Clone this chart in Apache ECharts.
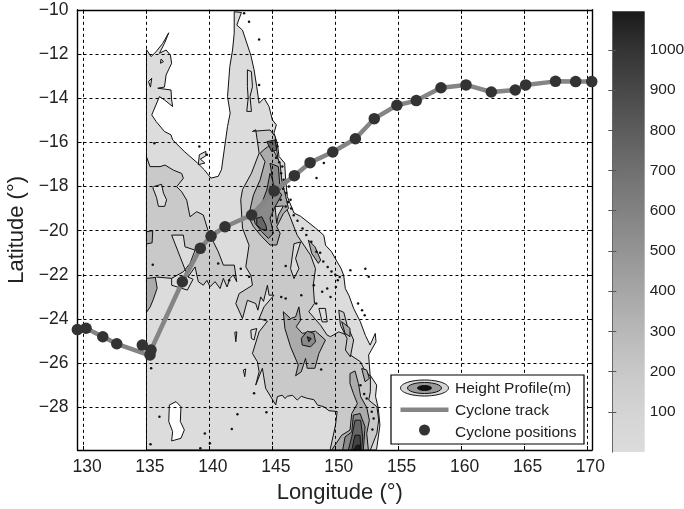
<!DOCTYPE html>
<html><head><meta charset="utf-8">
<style>html,body{margin:0;padding:0;background:#fff}#c{width:684px;height:509px}</style>
<script src="https://cdn.jsdelivr.net/npm/echarts@6/dist/echarts.min.js"></script>
</head><body><div id="c"></div>
<script>
// ---- data ----
const xTicks=[130,135,140,145,150,155,160,165,170];
const yTicks=[-28,-26,-24,-22,-20,-18,-16,-14,-12,-10];
const cbTicks=[100,200,300,400,500,600,700,800,900,1000];
const trackPoints=[[129.51,-24.48],[130.2,-24.42],[131.53,-24.8],[132.64,-25.12],[135.2,-25.63],[135.36,-25.4],[137.85,-22.31],[139.28,-20.8],[140.13,-20.25],[141.24,-19.82],[143.36,-19.29],[145.14,-18.2],[146.75,-17.51],[148.0,-16.92],[149.8,-16.44],[151.6,-15.84],[153.1,-14.93],[154.9,-14.32],[156.44,-14.11],[158.4,-13.53],[160.39,-13.4],[162.4,-13.72],[164.3,-13.63],[165.13,-13.4],[167.5,-13.24],[169.1,-13.25],[170.38,-13.25]];
const cyclonePositions=[[129.51,-24.48],[130.2,-24.42],[131.53,-24.8],[132.64,-25.12],[134.67,-25.18],[135.28,-25.63],[135.36,-25.4],[137.85,-22.31],[139.28,-20.8],[140.13,-20.25],[141.24,-19.82],[143.36,-19.29],[145.14,-18.2],[146.75,-17.51],[148.0,-16.92],[149.8,-16.44],[151.6,-15.84],[153.1,-14.93],[154.9,-14.32],[156.44,-14.11],[158.4,-13.53],[160.39,-13.4],[162.4,-13.72],[164.3,-13.63],[165.13,-13.4],[167.5,-13.24],[169.1,-13.25],[170.38,-13.25]];
const land=[[135,-11.8],[135.37,-12.12],[135.77,-11.89],[136.29,-11.52],[136.77,-11.04],[136.43,-11.52],[136.03,-11.97],[136.56,-11.82],[136.9,-12.05],[137,-12.42],[136.56,-12.95],[136.43,-13.5],[135.9,-13.55],[136.95,-13.63],[137,-14.08],[137.08,-14.38],[136.43,-14.08],[136.03,-13.93],[135.42,-14.76],[135.77,-15.06],[136.43,-15.51],[136.95,-15.66],[137.08,-15.89],[138,-16.41],[139.06,-16.94],[139.59,-17.24],[140.12,-17.62],[140.7,-17.54],[140.96,-17.24],[141.18,-16.34],[141.44,-15.28],[141.65,-14.68],[141.44,-13.93],[141.62,-12.57],[141.84,-11.82],[141.97,-11.07],[141.97,-10.09],[142.55,-10.12],[142.18,-10.69],[142.63,-10.92],[142.89,-11.37],[143.29,-12.05],[143.55,-12.72],[143.76,-13.48],[143.95,-14.23],[144.34,-14],[144.74,-14.38],[145,-14.98],[145.32,-15.21],[145.13,-15.58],[145.4,-16.04],[145.53,-16.64],[145.98,-16.94],[146.06,-17.69],[146.19,-18.45],[146.72,-19.2],[147.25,-19.35],[148.43,-19.88],[149.09,-20.21],[149.23,-20.66],[149.7,-20.95],[150.15,-21.41],[150.45,-21.7],[150.67,-22.02],[150.8,-22.62],[151.1,-22.95],[151.46,-23.52],[151.99,-24.12],[152.4,-24.75],[152.77,-25.18],[153.18,-24.65],[153.24,-25.03],[152.65,-25.63],[152.77,-26.54],[153.29,-26.99],[153.2,-27.5],[153.42,-28.04],[153.55,-28.8],[153.29,-29.88],[153.25,-29.93],[135,-29.93]];
const westHighland=[[135,-16.65],[135.28,-17.1],[136.08,-17.1],[136.48,-17.03],[137.14,-17.26],[137.8,-17.41],[137.93,-17.63],[137.4,-18.01],[137.8,-18.24],[138.2,-18.62],[138.46,-19.37],[138.99,-19.14],[139.52,-19.29],[139.92,-20.05],[140.71,-20.96],[141.11,-21.56],[141.98,-21.56],[142.17,-22.31],[141.9,-22.0],[141.64,-22.16],[141.4,-22.55],[141.11,-22.16],[140.85,-22.62],[140.45,-22.31],[140.05,-22.54],[139.8,-22.25],[139.52,-22.47],[139.12,-22.31],[138.86,-21.64],[138.3,-22.1],[137,-22.16],[135.8,-22.1],[135,-22.4]];
const eastHighland=[[143.42,-15.51],[143.68,-15.43],[143.95,-16.49],[143.34,-17.4],[142.63,-18.14],[142.49,-18.6],[142.63,-19.88],[143.15,-20.66],[142.89,-21.64],[143.29,-22.02],[143.42,-22.47],[142.36,-22.85],[142.1,-23.3],[142.63,-23.98],[143.02,-23.15],[143.68,-23.3],[143.85,-23.6],[144.08,-23],[144.3,-23.2],[144.61,-22.47],[144.74,-22.92],[145.13,-22.92],[144.34,-23.45],[143.95,-23.98],[144.61,-24.1],[143.95,-24.58],[143.42,-25.56],[143.81,-25.93],[143.95,-26.39],[143.68,-26.99],[144.21,-26.23],[144.47,-27.14],[145.27,-27.89],[145.4,-27.51],[145.8,-27.45],[146,-27.6],[146.19,-27.5],[146.6,-27.45],[146.98,-27.67],[147.3,-27.5],[147.77,-27.59],[148.3,-27.65],[148.6,-27.9],[149.09,-27.97],[149.5,-28.15],[150.15,-28.19],[150.02,-28.8],[149.62,-29.85],[149.6,-29.93],[152.79,-29.93],[153.31,-29.17],[153.45,-28.57],[153.31,-27.97],[152.66,-27.67],[152.79,-27.29],[152.79,-26.61],[152.26,-26.23],[151.99,-25.93],[151.2,-25.63],[150.94,-24.73],[150.28,-24.58],[149.62,-24.8],[149.36,-24.73],[148.83,-24.28],[147.9,-23.67],[148.35,-23.3],[148.25,-22.47],[148.43,-21.72],[148.04,-21.11],[146.98,-20.21],[146.41,-19.37],[146.01,-18.84],[145.35,-16.35],[145.22,-15.74],[144.82,-15.44],[143.5,-15.5]];
const westLakes=[[[135.6,-18.0],[136.2,-17.9],[136.35,-18.3],[136.6,-18.6],[136.45,-18.9],[135.95,-18.9],[135.8,-18.5],[135.5,-18.05]],[[137,-20.2],[137.93,-20.2],[138.06,-20.73],[138.86,-20.88],[138.46,-21.48],[137.93,-21.86],[137,-22.16],[137,-22.47],[138.25,-22.69],[138.7,-22.2],[138.3,-22.1]]];
const ridgeNorth=[[144.03,-16.5],[144.42,-16.87],[144.03,-17.7],[143.5,-18.38],[143.1,-19.37],[143.5,-19.82],[144.16,-20.27],[144.82,-20.65],[145.35,-20.65],[145.62,-20.12],[145.35,-19.82],[145.88,-19.22],[146.28,-18.99],[146.01,-18.31],[145.75,-17.71],[145.62,-16.95],[145.22,-16.5],[144.82,-16.12],[144.29,-16.35]];
const ridgeNorthInner=[[144.82,-17.4],[145.22,-18.01],[145.75,-18.38],[145.22,-18.91],[144.82,-19.44],[145.09,-20.12],[144.69,-20.35],[144.16,-20.05],[143.63,-19.67],[143.5,-19.29],[144.16,-18.76],[144.56,-18.16]];
const ridgeNorthCore=[[143.76,-19.44],[144.16,-19.37],[144.48,-19.74],[144.56,-19.97],[144.16,-19.94],[143.76,-19.74]];
const ridgeNorthTop=[[144.56,-15.97],[145.22,-15.89],[145.35,-16.35],[144.95,-16.42]];
const ridgeNorthSpine=[[144.82,-16.95],[145.48,-17.1],[145.62,-18.16],[145.09,-17.93]];
const townsvilleGap=[[145.22,-18.91],[145.88,-18.88],[145.48,-19.29],[145.35,-19.67]];
const carnarvon=[[145.87,-23.67],[146.45,-23.98],[146.85,-23.9],[147.11,-23.45],[147.25,-24.05],[146.9,-24.35],[147.38,-24.65],[148.43,-24.55],[149.22,-24.95],[148.7,-25.56],[148.38,-26.23],[147.77,-26.23],[147.64,-25.78],[147.3,-26.39],[146.85,-26.57],[147.06,-26.08],[146.45,-25.26],[146,-24.43]];
const carnarvonInner=[[147.3,-24.88],[147.77,-24.55],[148.3,-24.65],[148.43,-25.03],[148.04,-25.26],[147.38,-25.18]];
const carnarvonCore=[[147.77,-24.8],[148.09,-24.88],[147.9,-25.03]];
const southRidge=[[151.17,-26.47],[151.57,-26.35],[151.84,-26.92],[152.02,-27.52],[152.5,-28],[152.71,-28.58],[152.5,-29.18],[152.63,-29.93],[149.72,-29.93],[150.51,-29.26],[151.17,-29.03],[151.31,-28.28],[151.76,-27.83],[151.44,-27.37],[151.17,-26.92]];
const southRidge4=[[151.44,-28.35],[151.97,-28.28],[152.37,-28.88],[152.23,-29.93],[150.59,-29.93],[150.78,-29.34],[151.31,-29.11]];
const southRidge5=[[151.57,-28.58],[152.02,-28.58],[152.18,-29.34],[152.1,-29.93],[151.04,-29.93],[151.31,-29.34]];
const southRidge6=[[151.57,-29.26],[151.97,-29.26],[152.02,-29.93],[151.31,-29.93]];
const southRidge7=[[151.7,-29.71],[151.92,-29.71],[151.92,-29.93],[151.44,-29.93]];
const smallHigh=[[[152.1,-26.24],[152.5,-26.31],[152.71,-26.69],[152.37,-26.84]],[[150.51,-24.12],[151.17,-24.42],[151.17,-24.8],[150.78,-24.65]],[[147.86,-20.42],[148.39,-20.73],[148.84,-21.33],[148.66,-21.48],[148.13,-21.03]],[[135,-20.05],[135.5,-20.0],[135.45,-20.55],[135,-20.6]],[[135,-22.16],[135.7,-22.12],[135.85,-22.6],[135.55,-23.1],[135.3,-23.45],[135,-23.7]]];
const smallPlain=[[[143.02,-12.72],[143.34,-12.8],[143.42,-13.48],[143.23,-13.93],[143.34,-14.6],[142.97,-14.6],[143.08,-14],[143.02,-13.48]],[[136.16,-12.23],[136.35,-12.35],[136.11,-12.42]],[[135.16,-13.25],[135.42,-13.1],[135.32,-13.5]],[[139.2,-16.56],[139.72,-16.41],[139.72,-16.61],[139.28,-16.76],[139.64,-16.94],[139.12,-17.01]],[[143.29,-24.5],[143.76,-24.43],[143.55,-24.95],[143.34,-24.88]],[[142.7,-26.31],[142.89,-26.26],[142.81,-26.61]],[[142.02,-24.6],[142.18,-24.58],[142.1,-25.03]],[[146.72,-20.59],[147.25,-20.51],[146.85,-21.26],[147.11,-21.72],[146.72,-22.17],[146.45,-21.72]],[[148.7,-23.52],[149.22,-23.52],[149.36,-24.13],[148.96,-24.13]]];
const coastalStrip=[[150.28,-23.6],[150.68,-23.7],[150.94,-24.28],[151.46,-24.95],[151.2,-25.71],[150.81,-25.41],[150.94,-24.88],[150.41,-24.28]];
const lakeEyre=[[136.82,-27.89],[137.35,-27.74],[137.74,-27.97],[137.69,-28.64],[138.01,-29.02],[137.74,-29.4],[137,-29.52],[137.08,-29.1],[136.77,-28.64]];
const specks=[[151.2,-21.79],[152.39,-21.72],[152.66,-22.09],[151.81,-23.3],[152.13,-23.6],[152.34,-23.83],[135.37,-26.23],[136.03,-28.42],[142.23,-28.31],[144.53,-28.22],[141.78,-28.98],[139.64,-29.18],[140.04,-29.63],[135.32,-29.67],[139.28,-29.85],[135.5,-21.54],[143.55,-27.36],[148.88,-26.28],[146.06,-23.07],[145.71,-23],[147.3,-22.92],[148.96,-22.77],[140.7,-21.49],[141.57,-22.24],[142.49,-21.72],[143.15,-22.09],[146.06,-21.6],[148.49,-23.3],[149.62,-23],[149.36,-22.62],[148.3,-22.47],[143.95,-11.34],[142.76,-10.16],[143.15,-10.54],[143.95,-13.4],[135.63,-16.04],[139.2,-16.19],[149.09,-16.94],[148.51,-17.62],[139.8,-16.56],[145.79,-17.09],[146.32,-18],[146.45,-18.6],[146.06,-18.9],[145.66,-18.6],[145.4,-16.19],[145.3,-16.7],[145.55,-16.9],[145.7,-17.4],[145.9,-17.7],[145.85,-18.1],[146.1,-18.3],[146.25,-18.7],[146.5,-19.0],[146.7,-19.3],[147,-19.55],[147.4,-19.9],[147.7,-20.2],[148.1,-20.5],[148.5,-20.95],[148.8,-21.0],[149.05,-21.4],[149.4,-21.65],[149.7,-21.85],[150.0,-22.0],[150.2,-22.25],[150.05,-22.55],[150.35,-22.1],[152.0,-27.0],[152.3,-27.4],[152.5,-27.6],[152.9,-28.2],[153.05,-28.5],[152.95,-29.0]];
const cbEdges=[0,100,200,300,400,500,600,700,800,900,1000,1096];
const cbGreys=[220,212,200,184,166,148,130,112,92,72,52,26];
const levelFill=['#dcdcdc','#c9c9c9','#ababab','#8a8a8a','#666666','#444444','#1c1c1c'];

// layers drawn bottom to top: [polygon, level]
const layers=[[land,0],[westHighland,1],[eastHighland,1]]
 .concat(westLakes.map(p=>[p,0]))
 .concat(smallPlain.map(p=>[p,0]))
 .concat([[coastalStrip,1]])
 .concat(smallHigh.map(p=>[p,2]))
 .concat([[ridgeNorth,2],[townsvilleGap,0],[ridgeNorthInner,3],[ridgeNorthSpine,3],[ridgeNorthTop,4],[ridgeNorthCore,4],
  [carnarvon,2],[carnarvonInner,3],[carnarvonCore,5],[southRidge,2],[southRidge4,3],[southRidge5,4],[southRidge6,5],[southRidge7,6]]);

const chart=echarts.init(document.getElementById('c'),null,{renderer:'canvas'});
const font='"Liberation Sans",Arial,sans-serif';
const ink='#222';
const fmtY=v=>v<0?'\u2212'+Math.abs(v):String(v);
const gridX={min:129.52,max:170.4,type:'value'};
const gridY={min:-29.93,max:-10,type:'value'};
const boxLine={show:true,onZero:false,lineStyle:{color:'#000',width:1.4}};
const stops=cbEdges.map((e,i)=>{const g=cbGreys[i];return{offset:1-e/1096,color:`rgb(${g},${g},${g})`}}).reverse();
chart.setOption({
 animation:false,
 backgroundColor:'#fff',
 grid:[{left:77.5,top:9.8,width:514.5,height:440.2,outerBoundsMode:'none'},{left:612.3,top:11.3,width:32.4,height:440.7,outerBoundsMode:'none'}],
 xAxis:[
  {...gridX,gridIndex:0,position:'bottom',z:5,axisLine:boxLine,
   axisTick:{show:true,inside:true,length:4,customValues:xTicks,lineStyle:{color:'#000'}},
   axisLabel:{customValues:xTicks,color:ink,fontFamily:font,fontSize:17.5,margin:8,padding:[0,0,0,7],hideOverlap:false,showMinLabel:true,showMaxLabel:true},
   splitLine:{show:true,lineStyle:{color:'#000',type:[3,3],width:1}},
   name:'Longitude (\u00b0)',nameLocation:'middle',nameGap:32,nameTextStyle:{fontFamily:font,fontSize:22,color:ink,padding:[0,0,0,10]}},
  {...gridX,gridIndex:0,position:'top',z:5,axisLine:boxLine,
   axisTick:{show:true,inside:true,length:4,customValues:xTicks,lineStyle:{color:'#000'}},axisLabel:{show:false},splitLine:{show:false}},
  {type:'value',min:0,max:1,gridIndex:1,show:false}
 ],
 yAxis:[
  {...gridY,gridIndex:0,position:'left',z:5,axisLine:boxLine,
   axisTick:{show:true,inside:true,length:4,customValues:yTicks,lineStyle:{color:'#000'}},
   axisLabel:{customValues:yTicks,formatter:fmtY,color:ink,fontFamily:font,fontSize:17.5,margin:9,showMinLabel:true,showMaxLabel:true},
   splitLine:{show:true,lineStyle:{color:'#000',type:[3,3],width:1}},
   name:'Latitude (\u00b0)',nameLocation:'middle',nameGap:50,nameRotate:90,nameTextStyle:{fontFamily:font,fontSize:22,color:ink}},
  {...gridY,gridIndex:0,position:'right',z:5,axisLine:boxLine,
   axisTick:{show:true,inside:true,length:4,customValues:yTicks,lineStyle:{color:'#000'}},axisLabel:{show:false},splitLine:{show:false}},
  {type:'value',min:0,max:1096,gridIndex:1,position:'right',z:5,
   axisLine:{show:true,lineStyle:{color:'#666',width:1}},
   axisTick:{show:true,inside:true,length:4,customValues:cbTicks,lineStyle:{color:'#555'}},
   axisLabel:{customValues:cbTicks,formatter:v=>String(v),color:ink,fontFamily:font,fontSize:15.5,margin:5},splitLine:{show:false}},
  {type:'value',min:0,max:1096,gridIndex:1,position:'left',z:5,
   axisLine:{show:true,lineStyle:{color:'#666',width:1}},
   axisTick:{show:true,inside:true,length:4,customValues:cbTicks,lineStyle:{color:'#555'}},axisLabel:{show:false},splitLine:{show:false}}
 ],
 series:[
  {type:'custom',name:'Height Profile(m)',coordinateSystem:'cartesian2d',xAxisIndex:0,yAxisIndex:0,z:1,clip:false,silent:true,
   data:layers.map((l,i)=>[i]),
   encode:{x:[],y:[]},
   renderItem:(params,api)=>{
     const l=layers[params.dataIndex];
     return {type:'polygon',shape:{points:l[0].map(p=>api.coord(p))},style:{fill:levelFill[l[1]],stroke:'#111',lineWidth:1}};
   }},
  {type:'scatter',name:'specks',xAxisIndex:0,yAxisIndex:0,z:2,symbolSize:2.5,itemStyle:{color:'#111',opacity:1},silent:true,data:specks},
  {type:'custom',name:'lake',coordinateSystem:'cartesian2d',xAxisIndex:0,yAxisIndex:0,z:2,silent:true,
   data:[[0]],encode:{x:[],y:[]},
   renderItem:(params,api)=>({type:'polygon',shape:{points:lakeEyre.map(p=>api.coord(p))},style:{fill:'#fff',stroke:'#111',lineWidth:1}})},
  {type:'line',name:'Cyclone track',xAxisIndex:0,yAxisIndex:0,z:10,clip:false,showSymbol:false,silent:true,
   lineStyle:{color:'#858585',width:4.5},data:trackPoints},
  {type:'scatter',name:'Cyclone positions',xAxisIndex:0,yAxisIndex:0,z:11,clip:false,symbolSize:11.5,silent:true,
   itemStyle:{color:'#333',opacity:1},data:cyclonePositions},
  {type:'custom',name:'colorbar',coordinateSystem:'cartesian2d',xAxisIndex:2,yAxisIndex:2,z:1,silent:true,
   data:[[0,0]],encode:{x:[],y:[]},
   renderItem:(params,api)=>{
     const a=api.coord([0,1096]),b=api.coord([1,0]);
     return {type:'rect',shape:{x:a[0],y:a[1],width:b[0]-a[0],height:b[1]-a[1]},
       style:{fill:new echarts.graphic.LinearGradient(0,0,0,1,stops)}};
   }}
 ],
 graphic:[{type:'group',z:50,children:[
  {type:'rect',shape:{x:391,y:375,width:193,height:69},style:{fill:'#fff',stroke:'#000',lineWidth:1.2},z:50},
  {type:'ellipse',shape:{cx:424.5,cy:388,rx:24,ry:8},style:{fill:'#d6d6d6',stroke:'#111',lineWidth:1},z:51},
  {type:'ellipse',shape:{cx:424.5,cy:388,rx:17,ry:5.5},style:{fill:'#9a9a9a',stroke:'#111',lineWidth:1},z:52},
  {type:'ellipse',shape:{cx:424.5,cy:388,rx:7,ry:2.5},style:{fill:'#111',stroke:'#111',lineWidth:1},z:53},
  {type:'line',shape:{x1:400.5,y1:409.7,x2:448.5,y2:409.7},style:{stroke:'#858585',lineWidth:4.5},z:51},
  {type:'circle',shape:{cx:424.5,cy:430,r:5.5},style:{fill:'#333'},z:51},
  {type:'text',style:{x:455,y:388.5,text:'Height Profile(m)',font:'15.5px '+font,fill:ink,textVerticalAlign:'middle'},z:51},
  {type:'text',style:{x:455,y:411,text:'Cyclone track',font:'15.5px '+font,fill:ink,textVerticalAlign:'middle'},z:51},
  {type:'text',style:{x:455,y:432.5,text:'Cyclone positions',font:'15.5px '+font,fill:ink,textVerticalAlign:'middle'},z:51}
 ]}]
});
</script></body></html>
